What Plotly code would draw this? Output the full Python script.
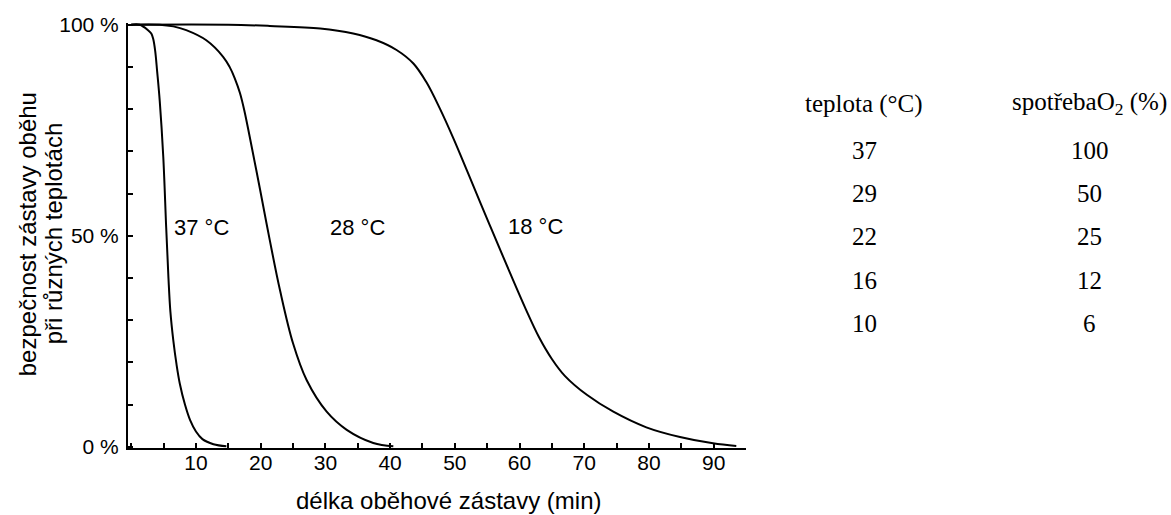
import plotly.graph_objects as go

# ---- data ----
x37 = [0, 1.3, 2.6, 3.1, 3.4, 3.7, 4.0, 4.4, 4.95, 5.4, 5.75, 6.05, 6.5, 7.0, 7.5, 8.3, 9.1, 10.0, 11.0, 12.7, 14.7]
y37 = [100, 100, 98.7, 97.9, 96.6, 93.8, 89.0, 82.0, 68.7, 52.0, 40.0, 32.0, 25.2, 19.5, 15.0, 10.0, 6.3, 3.6, 1.8, 0.6, 0.1]

x28 = [0, 4.4, 6.5, 8.5, 11.6, 14.2, 15.2, 16.0, 16.8, 17.5, 18.3, 19.9, 21.4, 23.0, 25.0, 27.1, 30.2, 33.3, 37.4, 40.5]
y28 = [100, 100, 99.6, 98.7, 96.3, 92.4, 90.0, 87.3, 83.8, 79.5, 73.5, 61.0, 49.0, 37.0, 24.5, 15.8, 8.3, 4.0, 0.9, 0.1]

x18 = [0, 15, 21.4, 29.2, 34.3, 37.9, 41.0, 43.6, 45.6, 47.7, 49.8, 52.0, 55.4, 58.5, 61.0, 63.0, 65.0, 67.0, 70.4, 74.5, 79.6, 84.8, 89.9, 93.5]
y18 = [100, 100, 99.7, 99.1, 97.9, 96.3, 94.0, 90.8, 86.4, 80.1, 73.0, 65.0, 52.5, 41.3, 32.5, 26.0, 20.8, 16.8, 12.3, 8.3, 4.6, 2.3, 0.8, 0.2]

curve_labels = ["37 °C", "28 °C", "18 °C"]
label_x = [10.8, 34.9, 62.5]
label_y = [52, 52, 52.3]

x_tickvals = [10, 20, 30, 40, 50, 60, 70, 80, 90]
x_ticktext = ["10", "20", "30", "40", "50", "60", "70", "80", "90"]
y_tickvals = [0, 50, 100]
y_ticktext = ["0 %", "50 %", "100 %"]

y_title_lines = ["bezpečnost zástavy oběhu", "při různých teplotách"]
x_title = "délka oběhové zástavy (min)"

table_temp = ["37", "29", "22", "16", "10"]
table_o2 = ["100", "50", "25", "12", "6"]
table_header = ["teplota (°C)", "spotřebaO<sub>2</sub> (%)"]

# ---- layout geometry ----
W, H = 1171, 515
L, PW = 128, 618.2
T, PH = 22.8, 425.0
R = W - L - PW
B = H - T - PH

def px(xp):
    return (xp - L) / PW

def py(yp):
    return (T + PH - yp) / PH

SANS = "Liberation Sans, Arial, sans-serif"
SERIF = "Liberation Serif, Times New Roman, serif"

fig = go.Figure()
for xs, ys in [(x37, y37), (x28, y28), (x18, y18)]:
    fig.add_trace(go.Scatter(x=xs, y=ys, mode="lines",
                             line=dict(color="black", width=2, shape="spline", smoothing=1.0),
                             showlegend=False, hoverinfo="skip"))

annotations = []
for t, xv, yv in zip(curve_labels, label_x, label_y):
    annotations.append(dict(x=xv, y=yv, xref="x", yref="y", text=t, showarrow=False,
                            xanchor="center", yanchor="middle",
                            font=dict(family=SANS, size=22, color="black")))

# axis titles
annotations.append(dict(x=px(449), y=py(500), xref="paper", yref="paper",
                        text=x_title, showarrow=False,
                        xanchor="center", yanchor="middle",
                        font=dict(family=SANS, size=24, color="black")))
for lx, line in zip([27, 53], y_title_lines):
    annotations.append(dict(x=px(lx), y=py(234), xref="paper", yref="paper",
                            text=line, showarrow=False,
                            textangle=-90, xanchor="center", yanchor="middle",
                            font=dict(family=SANS, size=24, color="black")))

# table
col_x = [865, 1090]
head_x = [864, 1090]
row_y = [150, 193.3, 236.7, 280, 323.3]
for hx, ht in zip(head_x, table_header):
    annotations.append(dict(x=px(hx), y=py(103.3), xref="paper", yref="paper", text=ht,
                            showarrow=False, xanchor="center", yanchor="middle",
                            font=dict(family=SERIF, size=25, color="black")))
for ry, a, b in zip(row_y, table_temp, table_o2):
    annotations.append(dict(x=px(col_x[0]), y=py(ry), xref="paper", yref="paper", text=a,
                            showarrow=False, xanchor="center", yanchor="middle",
                            font=dict(family=SERIF, size=25, color="black")))
    annotations.append(dict(x=px(col_x[1]), y=py(ry), xref="paper", yref="paper", text=b,
                            showarrow=False, xanchor="center", yanchor="middle",
                            font=dict(family=SERIF, size=25, color="black")))

fig.update_layout(
    width=W, height=H,
    margin=dict(l=L, r=R, t=T, b=B, pad=0),
    paper_bgcolor="white", plot_bgcolor="white",
    annotations=annotations,
    xaxis=dict(range=[-0.5, 95], showgrid=False, zeroline=False,
               showline=True, linecolor="black", linewidth=2,
               ticks="inside", ticklen=5, tickwidth=1.5, tickcolor="black",
               tickvals=x_tickvals, ticktext=x_ticktext,
               tickfont=dict(family=SANS, size=21, color="black"),
               ticklabelstandoff=-5,
               minor=dict(ticks="inside", ticklen=5, tickwidth=1.5, tickcolor="black", dtick=5, tick0=0)),
    yaxis=dict(range=[-0.3, 100.4], showgrid=False, zeroline=False,
               showline=True, linecolor="black", linewidth=2,
               ticks="inside", ticklen=5, tickwidth=1.5, tickcolor="black",
               tickvals=y_tickvals, ticktext=y_ticktext,
               tickfont=dict(family=SANS, size=21, color="black"),
               ticklabelstandoff=3,
               minor=dict(ticks="inside", ticklen=5, tickwidth=1.5, tickcolor="black", dtick=10, tick0=0)),
)

fig.write_html("out.html")
